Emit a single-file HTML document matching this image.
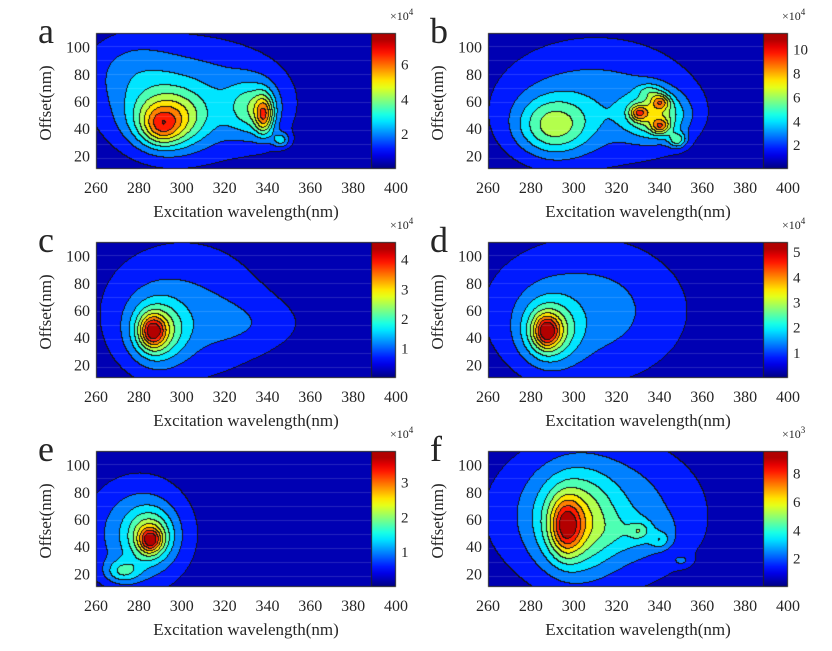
<!DOCTYPE html>
<html><head><meta charset="utf-8"><style>
body{margin:0;background:#fff;width:832px;height:651px;overflow:hidden;position:relative;font-family:"Liberation Serif",serif;color:#222}
canvas{position:absolute;left:0;top:0}
svg{position:absolute;left:0;top:0}
</style></head><body>
<canvas id="c" width="832" height="651"></canvas>
<svg id="s" width="832" height="651" font-family="Liberation Serif, serif" fill="#262626"></svg>
<script>
const panels=[
 {L:'a',ox:96,oy:33,max:7.8,ticks:[2,4,6],exp:'4',blobs:[[305,62,0.28,32,32],[293,47,0.45,12,15],[290,42,0.25,6,9],[333,55,0.3,8,14],[338,50,0.45,3,10],[346,32,0.25,3,4],[275,85,0.12,15,20]]},
 {L:'b',ox:488,oy:33,max:11.4,ticks:[2,4,6,8,10],exp:'4',blobs:[[310,60,0.25,35,35],[290,42,0.38,12,15],[338,50,0.4,10,12],[330,52,0.35,3,4],[340,60,0.35,3,4],[340,42,0.35,3,4],[348,32,0.3,3,4],[335,68,0.15,4,4]]},
 {L:'c',ox:96,oy:242,max:4.6,ticks:[1,2,3,4],exp:'4',blobs:[[300,60,0.22,30,40],[288,45,0.4,9,16],[286,45,0.45,4,8],[335,50,0.08,20,15]]},
 {L:'d',ox:488,oy:242,max:5.4,ticks:[1,2,3,4,5],exp:'4',blobs:[[305,60,0.25,35,40],[288,45,0.4,9,16],[287,45,0.45,4,8]]},
 {L:'e',ox:96,oy:451,max:3.9,ticks:[1,2,3],exp:'4',blobs:[[280,50,0.3,18,30],[285,48,0.35,7,13],[285,45,0.4,3.5,6],[272,22,0.25,6,6]]},
 {L:'f',ox:488,oy:451,max:9.6,ticks:[2,4,6,8],exp:'3',blobs:[[310,65,0.3,35,40],[300,58,0.35,12,25],[296,55,0.42,5,14],[330,52,0.15,3,4],[340,45,0.15,3,4],[350,30,0.12,3,3],[330,50,0.1,12,10]]}
];
function cl(v){return Math.max(0,Math.min(1,v))}
function jet(t){return [cl(1.5-Math.abs(4*t-3)),cl(1.5-Math.abs(4*t-2)),cl(1.5-Math.abs(4*t-1))].map(v=>Math.round(v*255))}
const ctx=document.getElementById('c').getContext('2d');
const W=275,H=136,N=10;
let svg='';
for(const p of panels){
 const img=ctx.createImageData(W,H);
 const lev=[];
 for(let j=0;j<H;j++)for(let i=0;i<W;i++){
  const ex=260+i/2.143, off=110-j/1.36;
  let v=0;for(const b of p.blobs){v+=b[2]*Math.exp(-((ex-b[0])**2/(2*b[3]*b[3])+(off-b[1])**2/(2*b[4]*b[4])))}
  lev.push(Math.min(N-1,Math.floor(cl(v)*N)));
 }
 for(let j=0;j<H;j++)for(let i=0;i<W;i++){
  const k=lev[j*W+i];let c=jet((k+0.5)/N);
  if((i>0&&lev[j*W+i-1]!=k)||(j>0&&lev[(j-1)*W+i]!=k))c=[20,20,20];
  else if(j%14==13)c=c.map(x=>Math.round(x*0.85+255*0.15));
  const q=(j*W+i)*4;img.data[q]=c[0];img.data[q+1]=c[1];img.data[q+2]=c[2];img.data[q+3]=255;
 }
 ctx.putImageData(img,p.ox,p.oy);
 const cx=p.ox+W,cw=25;
 const g=ctx.createLinearGradient(0,p.oy+H,0,p.oy);
 for(let t=0;t<=1;t+=0.05){const c=jet(t);g.addColorStop(t,`rgb(${c})`)}
 ctx.fillStyle=g;ctx.fillRect(cx,p.oy,cw,H);
 ctx.strokeStyle='#222';ctx.lineWidth=1;ctx.strokeRect(p.ox+0.5,p.oy+0.5,W+cw-1,H-1);
 ctx.beginPath();ctx.moveTo(cx+0.5,p.oy);ctx.lineTo(cx+0.5,p.oy+H);ctx.stroke();
 svg+=`<text x="${p.ox-58}" y="${p.oy+10}" font-size="36">${p.L}</text>`;
 for(const o of [20,40,60,80,100]){const y=p.oy+(110-o)*1.36;svg+=`<text x="${p.ox-6}" y="${y+6}" font-size="16" text-anchor="end">${o}</text>`}
 svg+=`<text transform="translate(${p.ox-45},${p.oy+70}) rotate(-90)" font-size="17" text-anchor="middle">Offset(nm)</text>`;
 for(let x=260;x<=400;x+=20){svg+=`<text x="${p.ox+(x-260)*2.143}" y="${p.oy+160}" font-size="16" text-anchor="middle">${x}</text>`}
 svg+=`<text x="${p.ox+150}" y="${p.oy+184}" font-size="17" text-anchor="middle">Excitation wavelength(nm)</text>`;
 for(const t of p.ticks){const y=p.oy+H-t/p.max*H;svg+=`<text x="${cx+cw+5}" y="${y+5}" font-size="15">${t}</text>`}
 svg+=`<text x="${cx+cw-6}" y="${p.oy-13}" font-size="12">×10<tspan dy="-5" font-size="9">${p.exp}</tspan></text>`;
}
document.getElementById('s').innerHTML=svg;
</script>
</body></html>
